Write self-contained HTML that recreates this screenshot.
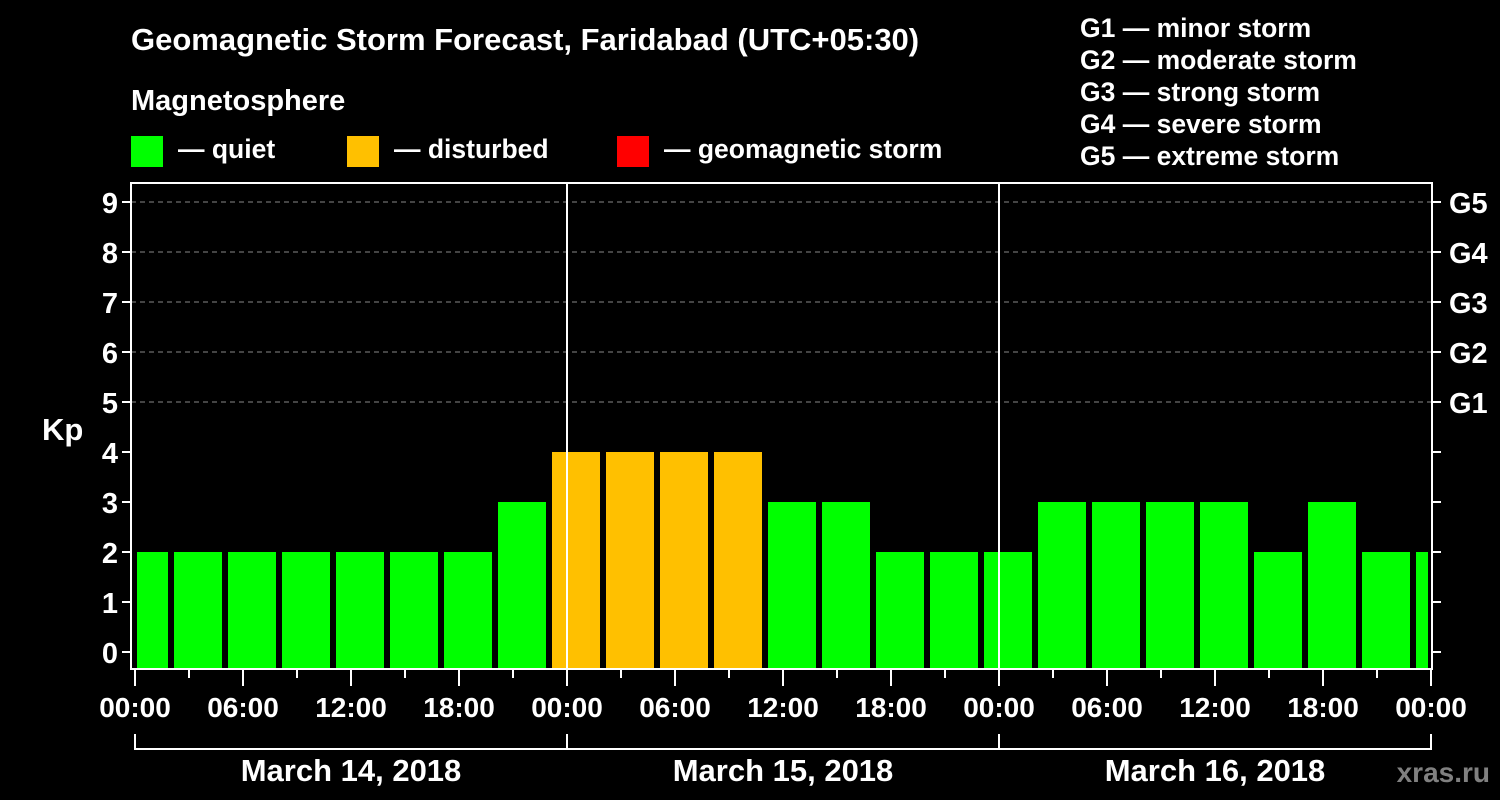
<!DOCTYPE html>
<html><head><meta charset="utf-8"><style>
body{margin:0;background:#000;width:1500px;height:800px;overflow:hidden}
svg{display:block;font-family:"Liberation Sans",Arial,sans-serif;font-weight:bold}
</style></head><body>
<svg id="c" width="1500" height="800">
<text x="131" y="50" fill="#fff" font-size="31">Geomagnetic Storm Forecast, Faridabad (UTC+05:30)</text>
<text x="131" y="110" fill="#fff" font-size="29">Magnetosphere</text>
<rect x="131" y="136" width="32" height="31" fill="#00ff00"/>
<text x="178" y="158" fill="#fff" font-size="26.5">— quiet</text>
<rect x="347" y="136" width="32" height="31" fill="#ffc000"/>
<text x="394" y="158" fill="#fff" font-size="26.5">— disturbed</text>
<rect x="617" y="136" width="32" height="31" fill="#ff0000"/>
<text x="664" y="158" fill="#fff" font-size="26.5">— geomagnetic storm</text>
<g fill="#fff" font-size="26.5">
<text x="1080" y="37">G1 — minor storm</text>
<text x="1080" y="69">G2 — moderate storm</text>
<text x="1080" y="101">G3 — strong storm</text>
<text x="1080" y="133">G4 — severe storm</text>
<text x="1080" y="165">G5 — extreme storm</text>
</g>
<text x="42" y="440" fill="#fff" font-size="31">Kp</text>
<text x="1490" y="782" fill="#808080" font-size="28" text-anchor="end">xras.ru</text>
<g id="grid"></g><g id="bars"></g><g id="axes"></g>
</svg>
<script>
const kpValues=[2,2,2,2,2,2,2,3,4,4,4,4,3,3,2,2,2,3,3,3,3,2,3,2,2];
const yTicks=[0,1,2,3,4,5,6,7,8,9];
const gLabels=["G1","G2","G3","G4","G5"];
const gLevels=[5,6,7,8,9];
const timeLabels=["00:00","06:00","12:00","18:00","00:00","06:00","12:00","18:00","00:00","06:00","12:00","18:00","00:00"];
const dayLabels=["March 14, 2018","March 15, 2018","March 16, 2018"];
const barOffsetHours=-1;
const NS="http://www.w3.org/2000/svg";
const X0=135,PX_H=18,Y0=652,PX_K=50,L=131,R=1432,T=183,B=669;
const xs=h=>X0+h*PX_H, ys=k=>Y0-k*PX_K;
function mk(tag,attrs,parent,text){const e=document.createElementNS(NS,tag);for(const k in attrs)e.setAttribute(k,attrs[k]);if(text!==undefined)e.textContent=text;parent.appendChild(e);return e;}
const grid=document.getElementById('grid'),bars=document.getElementById('bars'),axes=document.getElementById('axes');
yTicks.forEach(k=>{
 if(k>=5){const g=mk('line',{x1:L,x2:R,y1:ys(k),y2:ys(k),stroke:'#888','stroke-dasharray':'5,4','stroke-width':1},grid);
 
 }
 const t=mk('line',{x1:L-9,x2:L,y1:ys(k),y2:ys(k),stroke:'#fff','stroke-width':2},axes);
 
 
 const t2=mk('line',{x1:R,x2:R+9,y1:ys(k),y2:ys(k),stroke:'#fff','stroke-width':2},axes);
 
 
 const lb=mk('text',{x:L-13,y:ys(k)+11,fill:'#fff','font-size':29,'text-anchor':'end'},axes,String(k));
 
 
});
gLabels.forEach((g,i)=>{
 const lb=mk('text',{x:R+17,y:ys(gLevels[i])+11,fill:'#fff','font-size':29},axes,g);
 
 
});
kpValues.forEach((v,i)=>{
 let x1=xs(barOffsetHours+i*3)+3,x2=xs(barOffsetHours+i*3+3)-3;
 x1=Math.max(x1,L+6);x2=Math.min(x2,R-4);
 const col=v>=5?'#ff0000':(v>=4?'#ffc000':'#00ff00');
 const r=mk('rect',{x:x1,y:ys(v),width:x2-x1,height:B-ys(v),fill:col},bars);
 
 
});
const fr=mk('rect',{x:L,y:T,width:R-L,height:B-T,fill:'none',stroke:'#fff','stroke-width':2},axes);


for(let h=0;h<=72;h+=3){
 const major=h%6===0;
 const tk=mk('line',{x1:xs(h),x2:xs(h),y1:B,y2:B+(major?17:9),stroke:'#fff','stroke-width':2},axes);
 
 
}
timeLabels.forEach((t,i)=>{
 const lb=mk('text',{x:xs(i*6),y:717,fill:'#fff','font-size':28,'text-anchor':'middle'},axes,t);
 
 
});
dayLabels.forEach((d,i)=>{
 if(i>0){const v=mk('line',{x1:xs(i*24),x2:xs(i*24),y1:T,y2:B,stroke:'#fff','stroke-width':2},axes);
 
 }
 const p=mk('path',{d:`M${xs(i*24)},734V749H${xs(i*24+24)}V734`,fill:'none',stroke:'#fff','stroke-width':2},axes);
 
 
 const lb=mk('text',{x:xs(i*24+12),y:781,fill:'#fff','font-size':31,'text-anchor':'middle'},axes,d);
 
 
});
</script>
</body></html>
